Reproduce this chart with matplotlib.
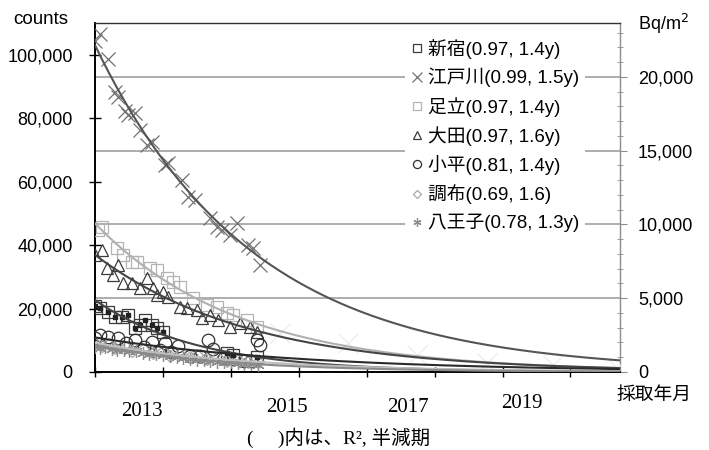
import matplotlib
matplotlib.use('Agg')
import matplotlib.pyplot as plt
import matplotlib.ticker as mticker
import numpy as np

plt.rcParams['font.family'] = ['Liberation Sans', 'Noto Sans CJK JP']

# elapsed years since first sampling, counts
shinjuku_t = [0.0, 0.07, 0.19, 0.29, 0.40, 0.49, 0.59, 0.66, 0.74, 0.84, 0.91, 1.00, 1.94, 2.03, 2.38]
shinjuku_v = [20800, 20200, 18900, 17400, 17400, 18000, 13900, 14800, 16400, 14800, 13900, 12600, 6000, 5400, 4700]

edogawa_t = [0.0, 0.07, 0.19, 0.29, 0.34, 0.44, 0.49, 0.59, 0.66, 0.77, 0.84, 1.03, 1.08, 1.28,
             1.37, 1.47, 1.69, 1.80, 1.87, 1.99, 2.09, 2.25, 2.33, 2.43]
edogawa_v = [104400, 106600, 98700, 88300, 86800, 82300, 81000, 81700, 76300, 71600, 72600, 65300,
             65900, 60600, 55200, 54300, 48600, 45700, 44800, 43200, 47000, 40100, 39100, 33800]

adachi_t = [0.04, 0.10, 0.32, 0.41, 0.54, 0.62, 0.81, 0.91, 1.06, 1.15, 1.25, 1.44, 1.65, 1.80,
            1.94, 2.03, 2.24, 2.39]
adachi_v = [44800, 45700, 39100, 36900, 34700, 34700, 32800, 32200, 29700, 28400, 26800, 23300,
            21100, 20500, 18600, 18000, 16400, 14200]

ota_t = [0.0, 0.10, 0.18, 0.27, 0.34, 0.41, 0.54, 0.66, 0.77, 0.85, 0.91, 1.00, 1.08, 1.25, 1.35,
         1.50, 1.58, 1.69, 1.81, 1.99, 2.14, 2.28, 2.39]
ota_v = [36900, 38500, 32800, 30600, 33800, 28100, 28100, 26500, 29700, 26500, 24300, 25200, 23700,
         20500, 20200, 19600, 17000, 18000, 16400, 14200, 15500, 14200, 12600]

kodaira_t = [0.0, 0.07, 0.19, 0.34, 0.45, 0.59, 0.72, 0.84, 0.95, 1.03, 1.12, 1.22, 1.40, 1.55,
             1.66, 1.74, 1.90, 2.05, 2.20, 2.30, 2.39, 2.43]
kodaira_v = [10700, 11700, 11000, 10700, 9000, 10100, 7800, 9500, 6800, 9100, 6200, 8200, 5200, 5000,
             10100, 7300, 4300, 4000, 3600, 3400, 10100, 8500]

chofu_t = [0.0, 0.1, 0.2, 0.3, 0.45, 0.55, 0.7, 0.85, 1.0, 1.1, 1.25, 1.4, 1.5, 1.65, 1.8, 1.95,
           2.1, 2.25, 2.4]
chofu_v = [9200, 8300, 8800, 7500, 8000, 6600, 7200, 6000, 6500, 5200, 5800, 4600, 5300, 4000, 4600,
           3400, 3900, 3000, 3300]

hachioji_t = [0.0, 0.07, 0.15, 0.25, 0.33, 0.42, 0.5, 0.6, 0.7, 0.8, 0.9, 1.0, 1.1, 1.2, 1.3, 1.4,
              1.5, 1.6, 1.7, 1.8, 1.9, 2.0, 2.1, 2.2, 2.3, 2.4]
hachioji_v = [8000, 7600, 7800, 7200, 7000, 6900, 6500, 6600, 6000, 5800, 5600, 5300, 5000, 4600,
              4500, 4200, 3900, 3800, 3500, 3300, 3000, 3100, 2800, 2600, 2500, 2300]

faint_t = [2.72, 3.73, 4.74, 5.77, 6.75, 7.69]
faint_v = [12300, 9100, 5400, 2800, 2200, 1300]

labels = ['新宿(0.97, 1.4y)', '江戸川(0.99, 1.5y)', '足立(0.97, 1.4y)', '大田(0.97, 1.6y)',
          '小平(0.81, 1.4y)', '調布(0.69, 1.6)', '八王子(0.78, 1.3y)']
year_labels = ['2013', '2015', '2017', '2019']

W, H = 709, 450
fig = plt.figure(figsize=(W / 100, H / 100), dpi=100)
ax = fig.add_axes([95 / W, 78 / H, 525 / W, 349 / H])
ax2 = ax.twinx()
ax.set_zorder(ax2.get_zorder() + 1)
ax.patch.set_visible(False)

x_end = 7.73
ax.set_xlim(0, x_end)
ax.set_ylim(0, 110000)
ax2.set_ylim(0, 23660)

series = [
    (shinjuku_t, shinjuku_v, 's', '#3c3c3c', 8, '#444444'),
    (edogawa_t, edogawa_v, 'x', '#707070', 10, '#555555'),
    (adachi_t, adachi_v, 's', '#b4b4b4', 9, '#b0b0b0'),
    (ota_t, ota_v, '^', '#3c3c3c', 9, '#444444'),
    (kodaira_t, kodaira_v, 'o', '#303030', 9, '#2a2a2a'),
    (chofu_t, chofu_v, 'D', '#a8a8a8', 6, '#bdbdbd'),
    (hachioji_t, hachioji_v, (6, 2, 0), '#8c8c8c', 9, '#8a8a8a'),
]

ax.plot(faint_t, faint_v, 'x', color='#eeeeee', ms=14, mew=1.0, zorder=1)

tt = np.linspace(0, x_end, 300)
handles = []
for (t, v, m, c, ms, lc), lab in zip(series, labels):
    h, = ax.plot(t, v, linestyle='none', marker=m, ms=ms, mfc='none', mec=c, mew=0.9,
                 label=lab, zorder=3)
    handles.append(h)
    # exponential trendline (log-linear least squares, like Excel)
    b, a = np.polyfit(t, np.log(v), 1)
    ax.plot(tt, np.exp(a + b * tt), color=lc, lw=1.5, zorder=4)

ax.plot(shinjuku_t, shinjuku_v, linestyle='none', marker='s', ms=3, color='#222222', zorder=3)

# axes styling
ax.spines['right'].set_visible(False)
for s in ['left', 'top', 'bottom']:
    ax2.spines[s].set_visible(False)
ax.spines['left'].set_linewidth(1.4)
ax.spines['bottom'].set_linewidth(1.4)
ax.spines['top'].set_color('#333333')
ax.spines['top'].set_linewidth(1.0)
ax2.spines['right'].set_color('#8c8c8c')
ax2.spines['right'].set_linewidth(1.0)

ax.set_yticks(range(0, 100001, 20000))
ax.yaxis.set_major_formatter(mticker.FuncFormatter(lambda v, p: f'{int(v):,}'))
ax.tick_params(axis='y', direction='inout', length=8, width=1, labelsize=13, pad=12)
ax.set_xticks(range(0, 8))
ax.tick_params(axis='x', direction='inout', length=7, width=1, labelbottom=False)

ax2.set_yticks(range(0, 20001, 5000))
ax2.yaxis.set_minor_locator(mticker.MultipleLocator(1000))
ax2.yaxis.set_major_formatter(mticker.FuncFormatter(lambda v, p: f'{int(v):,}'))
ax2.tick_params(axis='y', which='major', direction='out', length=5, color='#8c8c8c',
                labelsize=13, pad=8)
ax2.tick_params(axis='y', which='minor', direction='inout', length=4, color='#8c8c8c')
ax2.grid(axis='y', which='major', color='#a0a0a0', lw=1.2)

leg = ax.legend(handles=handles, loc='upper left', bbox_to_anchor=(405 / W, 1 - 33 / H),
                bbox_transform=fig.transFigure, fontsize=13.5, markerscale=0.65,
                handlelength=0.7, handletextpad=0.25, labelspacing=0.5, borderpad=0.3,
                borderaxespad=0, frameon=True, fancybox=False, framealpha=1)
leg.get_frame().set_edgecolor('none')
leg.get_frame().set_facecolor('white')

def px(x, y):
    return x / W, 1 - y / H

fig.text(*px(41, 19), 'counts', fontsize=13.5, ha='center', va='center')
fig.text(*px(638, 24), 'Bq/m$^2$', fontsize=13, ha='left', va='center')
fig.text(*px(654, 395), '採取年月', fontsize=13.5, ha='center', va='center')

year_pos = [(141.5, 411), (287, 407.5), (407.5, 407), (521.5, 404)]
for lab, (x, y) in zip(year_labels, year_pos):
    fig.text(*px(x, y), lab, fontsize=15, family=['Liberation Serif'], ha='center', va='center')
fig.text(*px(339, 438), '(\u3000 )内は、R², 半減期', fontsize=14,
         family=['Liberation Serif', 'Noto Sans CJK JP'], ha='center', va='center')

fig.savefig('out.png', dpi=100)
